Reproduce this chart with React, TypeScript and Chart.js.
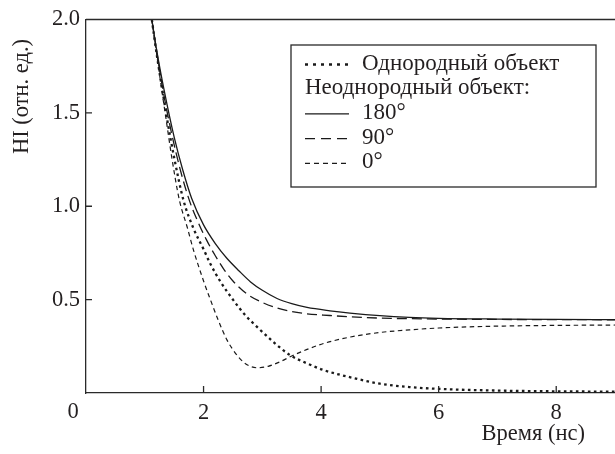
import React, { useEffect, useRef } from "react";
import { Chart, registerables } from "chart.js";

Chart.register(...registerables);

const FONT = '"Liberation Serif", "Times New Roman", serif';
const TEXT = "#231f20";
const AXIS = "#2a2a2a";
const TICK_SIZE = 22.5;
const TITLE_SIZE = 22.5;
const LEGEND_SIZE = 23;

// ---- data ----
const xTicks = [0, 2, 4, 6, 8];
const yTicks = [0, 0.5, 1.0, 1.5, 2.0];
const xTitle = "Время (нс)";
const yTitle = "HI (отн. ед.)";
const legendHeader = "Неоднородный объект:";
const seriesLabels = ["Однородный объект", "180°", "90°", "0°"];

const homogeneousX = [1.12, 1.2, 1.3, 1.4, 1.5, 1.66, 1.83, 2.0, 2.11, 2.3, 2.5, 2.7, 2.91, 3.2, 3.47, 3.75, 4.04, 4.5, 5.0, 5.5, 6.0, 7.0, 8.0, 9.0];
const homogeneousY = [2.0, 1.82, 1.62, 1.43, 1.26, 1.03, 0.88, 0.77, 0.695, 0.59, 0.5, 0.42, 0.354, 0.27, 0.203, 0.16, 0.123, 0.084, 0.05, 0.032, 0.022, 0.013, 0.009, 0.007];

const deg180X = [1.12, 1.2, 1.33, 1.5, 1.65, 1.8, 2.0, 2.2, 2.4, 2.6, 2.8, 3.0, 3.25, 3.5, 3.76, 4.15, 4.49, 5.0, 5.5, 6.0, 7.0, 8.0, 9.0];
const deg180Y = [2.0, 1.84, 1.62, 1.37, 1.19, 1.04, 0.9, 0.8, 0.72, 0.655, 0.595, 0.55, 0.506, 0.478, 0.458, 0.44, 0.428, 0.414, 0.405, 0.4, 0.396, 0.394, 0.393];

const deg90X = [1.12, 1.2, 1.31, 1.45, 1.6, 1.76, 1.9, 2.05, 2.2, 2.34, 2.5, 2.74, 3.0, 3.25, 3.5, 3.76, 4.15, 4.49, 5.0, 5.5, 6.0, 7.0, 8.0, 9.0];
const deg90Y = [2.0, 1.83, 1.62, 1.4, 1.2, 1.03, 0.92, 0.82, 0.735, 0.665, 0.6, 0.53, 0.485, 0.455, 0.436, 0.424, 0.415, 0.408, 0.401, 0.398, 0.396, 0.394, 0.393, 0.392];

const deg0X = [1.12, 1.2, 1.29, 1.37, 1.46, 1.59, 1.72, 1.83, 2.0, 2.11, 2.25, 2.4, 2.55, 2.68, 2.8, 2.92, 3.1, 3.3, 3.5, 3.75, 4.04, 4.5, 5.0, 5.5, 6.0, 6.5, 7.0, 8.0, 9.0];
const deg0Y = [2.0, 1.82, 1.62, 1.45, 1.26, 1.031, 0.89, 0.764, 0.6, 0.505, 0.39, 0.283, 0.21, 0.165, 0.142, 0.135, 0.143, 0.167, 0.198, 0.232, 0.265, 0.3, 0.324, 0.338, 0.348, 0.354, 0.358, 0.362, 0.364];

const pts = (xs: number[], ys: number[]) => xs.map((x, i) => ({ x, y: ys[i] }));

const decorPlugin = {
  id: "decor",
  afterDraw(chart: any) {
    const { ctx, chartArea, scales } = chart;
    const xs = scales.x;
    const ys = scales.y;
    ctx.save();
    ctx.strokeStyle = AXIS;
    ctx.lineWidth = 1.3;
    ctx.setLineDash([]);
    ctx.beginPath();
    // top frame line
    ctx.moveTo(chartArea.left, chartArea.top);
    ctx.lineTo(chartArea.right, chartArea.top);
    // inward tick marks
    xTicks.forEach((v) => {
      if (v <= 0) return;
      const px = xs.getPixelForValue(v);
      ctx.moveTo(px, chartArea.bottom);
      ctx.lineTo(px, chartArea.bottom - 7);
    });
    yTicks.forEach((v) => {
      if (v <= 0 || v >= 2) return;
      const py = ys.getPixelForValue(v);
      ctx.moveTo(chartArea.left, py);
      ctx.lineTo(chartArea.left + 6, py);
    });
    ctx.stroke();

    ctx.fillStyle = TEXT;
    // origin label
    ctx.font = `${TICK_SIZE}px ${FONT}`;
    ctx.textAlign = "center";
    ctx.textBaseline = "middle";
    ctx.fillText("0", xs.getPixelForValue(0) - 13, chartArea.bottom + 19);
    // x title
    ctx.font = `${TITLE_SIZE}px ${FONT}`;
    ctx.textAlign = "right";
    ctx.fillText(xTitle, chartArea.right - 30, chartArea.bottom + 41);
    // y title
    ctx.save();
    ctx.translate(22, chartArea.top + 77);
    ctx.rotate(-Math.PI / 2);
    ctx.textAlign = "center";
    ctx.fillText(yTitle, 0, 0);
    ctx.restore();

    // legend
    const bx = 291, by = 45, bw = 305, bh = 142;
    ctx.lineWidth = 1.3;
    ctx.strokeStyle = AXIS;
    ctx.strokeRect(bx, by, bw, bh);
    const rowStart = 63.5;
    const rowStep = 24.7;
    const sampleX0 = 305, sampleX1 = 349, textX = 362;
    const rows: { ds: number | null; text: string }[] = [
      { ds: 0, text: seriesLabels[0] },
      { ds: null, text: legendHeader },
      { ds: 1, text: seriesLabels[1] },
      { ds: 2, text: seriesLabels[2] },
      { ds: 3, text: seriesLabels[3] },
    ];
    ctx.font = `${LEGEND_SIZE}px ${FONT}`;
    ctx.textAlign = "left";
    ctx.textBaseline = "middle";
    rows.forEach((r, i) => {
      const cy = rowStart + i * rowStep;
      if (r.ds === null) {
        ctx.fillText(r.text, sampleX0, cy);
        return;
      }
      const d = chart.data.datasets[r.ds];
      ctx.save();
      ctx.strokeStyle = d.borderColor;
      ctx.lineWidth = d.borderWidth;
      ctx.setLineDash(d.legendDash || d.borderDash || []);
      ctx.beginPath();
      ctx.moveTo(sampleX0, cy + 1);
      ctx.lineTo(sampleX1, cy + 1);
      ctx.stroke();
      ctx.restore();
      ctx.fillText(r.text, textX, cy);
    });
    ctx.restore();
  },
};

export default function App() {
  const ref = useRef<HTMLCanvasElement | null>(null);
  useEffect(() => {
    if (!ref.current) return;
    const tickFont = { family: FONT, size: TICK_SIZE };
    const chart = new Chart(ref.current, {
      type: "line",
      data: {
        datasets: [
          { label: seriesLabels[0], data: pts(homogeneousX, homogeneousY), borderColor: "#1a1a1a", borderWidth: 2.3, borderDash: [2.6, 3.4], legendDash: [3, 5] } as any,
          { label: seriesLabels[1], data: pts(deg180X, deg180Y), borderColor: "#1a1a1a", borderWidth: 1.3, borderDash: [] } as any,
          { label: seriesLabels[2], data: pts(deg90X, deg90Y), borderColor: "#1a1a1a", borderWidth: 1.3, borderDash: [10, 5], legendDash: [10, 6] } as any,
          { label: seriesLabels[3], data: pts(deg0X, deg0Y), borderColor: "#1a1a1a", borderWidth: 1.2, borderDash: [4.5, 3.5], legendDash: [5, 4] } as any,
        ],
      },
      options: {
        animation: false,
        responsive: false,
        maintainAspectRatio: false,
        layout: { padding: { top: 18, right: 0, left: 0, bottom: 0 } },
        plugins: { legend: { display: false }, tooltip: { enabled: false } },
        elements: { point: { radius: 0 }, line: { cubicInterpolationMode: "monotone" } },
        scales: {
          x: {
            type: "linear",
            min: 0,
            max: 9,
            afterFit: (s: any) => { s.height = 61; },
            grid: { display: true, drawOnChartArea: false, drawTicks: false },
            border: { display: true, color: AXIS, width: 1.3 },
            ticks: {
              stepSize: 2,
              includeBounds: false,
              maxRotation: 0,
              autoSkip: false,
              padding: 7,
              color: TEXT,
              font: tickFont,
              callback: (v: any) => (Number(v) === 0 ? "" : String(v)),
            },
          },
          y: {
            min: 0,
            max: 2,
            afterFit: (s: any) => { s.width = 86; },
            grid: { display: true, drawOnChartArea: false, drawTicks: false },
            border: { display: true, color: AXIS, width: 1.3 },
            ticks: {
              stepSize: 0.5,
              padding: 6,
              color: TEXT,
              font: tickFont,
              callback: (v: any) => (Number(v) === 0 ? "" : Number(v).toFixed(1)),
            },
          },
        },
      } as any,
      plugins: [decorPlugin],
    });
    return () => chart.destroy();
  }, []);
  return (
    <div style={{ position: "fixed", left: 0, top: 0, width: 615, height: 454, background: "#fff" }}>
      <canvas ref={ref} width={615} height={454} style={{ width: 615, height: 454, display: "block" }} />
    </div>
  );
}
